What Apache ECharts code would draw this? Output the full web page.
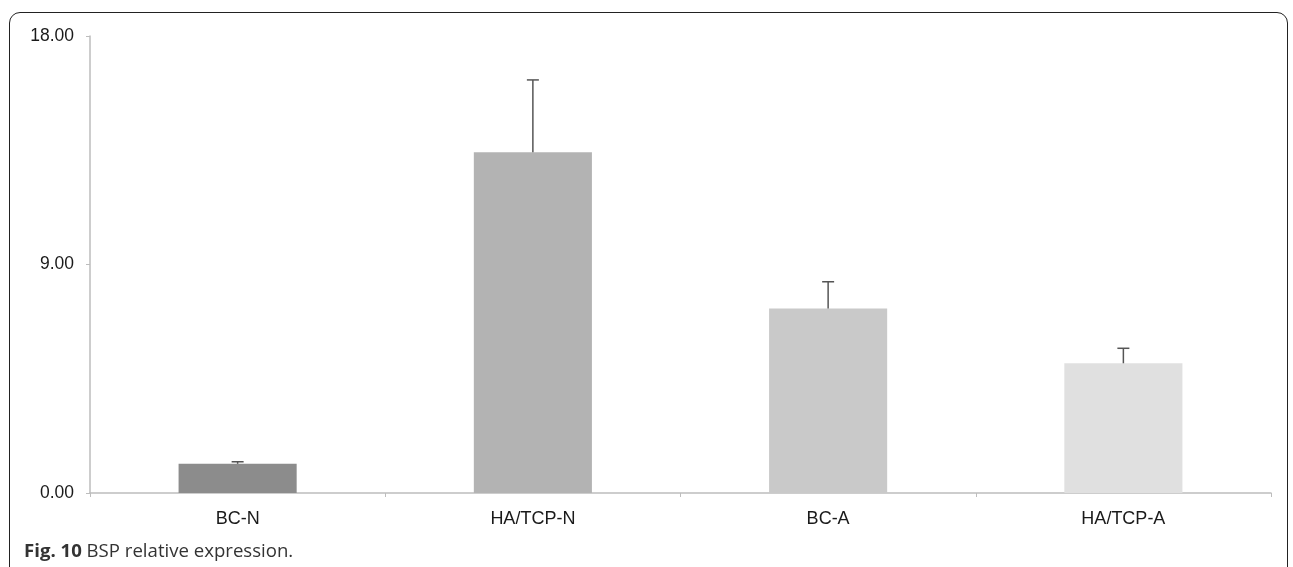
<!DOCTYPE html>
<html>
<head>
<meta charset="utf-8">
<script src="https://cdn.jsdelivr.net/npm/echarts@6/dist/echarts.min.js"></script>
<style>
  html, body { margin: 0; padding: 0; background: #fff; }
  #wrap { position: relative; width: 1293px; height: 567px; overflow: hidden; }
  #frame {
    position: absolute; left: 9px; top: 12px; width: 1279px; height: 600px;
    border: 1.5px solid #222; border-radius: 11px; box-sizing: border-box;
  }
  #chart { position: absolute; left: 0; top: 0; width: 1293px; height: 567px; }
  #caption {
    position: absolute; left: 24px; top: 540px; line-height: 20px; white-space: nowrap;
    font-family: "Open Sans", "Noto Sans", sans-serif; font-size: 18.6px; color: #333;
  }
  #caption b { font-weight: 700; }
</style>
</head>
<body>
<div id="wrap">
  <div id="frame"></div>
  <div id="chart"></div>
  <div id="caption"><b>Fig. 10</b> BSP relative expression.</div>
</div>
<script>
// Groups and measured BSP relative expression (mean and upper error)
const categories = ['BC-N', 'HA/TCP-N', 'BC-A', 'HA/TCP-A'];
const means = [1.15, 13.42, 7.27, 5.11];
const errors = [0.08, 2.85, 1.05, 0.59];
const barColors = ['#8c8c8c', '#b3b3b3', '#c9c9c9', '#e0e0e0'];
const yTicks = [0, 9, 18];

const chart = echarts.init(document.getElementById('chart'), null, { renderer: 'canvas' });

const axisColor = '#bdbdbd';
const fontFamily = '"Liberation Sans", Arial, Helvetica, sans-serif';

chart.setOption({
  animation: false,
  grid: { left: 90, right: 22, top: 36, bottom: 74, containLabel: false },
  xAxis: {
    type: 'category',
    data: categories,
    boundaryGap: true,
    axisLine: { show: true, lineStyle: { color: axisColor, width: 1.5 } },
    axisTick: { show: true, length: 4, inside: false, alignWithLabel: false, lineStyle: { color: axisColor } },
    axisLabel: { margin: 17, color: '#1a1a1a', fontSize: 18, fontFamily: fontFamily },
    splitLine: { show: false }
  },
  yAxis: {
    type: 'value',
    min: yTicks[0],
    max: yTicks[yTicks.length - 1],
    interval: yTicks[1] - yTicks[0],
    axisLine: { show: true, lineStyle: { color: axisColor, width: 1.5 } },
    axisTick: { show: true, length: 4, lineStyle: { color: axisColor } },
    axisLabel: { margin: 16, color: '#1a1a1a', fontSize: 17.5, fontFamily: fontFamily,
      formatter: v => v.toFixed(2) },
    splitLine: { show: false }
  },
  series: [
    {
      type: 'bar',
      barWidth: '40%',
      data: means.map((v, i) => ({ value: v, itemStyle: { color: barColors[i] } })),
      z: 2
    },
    {
      type: 'custom',
      z: 3,
      data: means.map((v, i) => [i, v, v + errors[i]]),
      renderItem: function (params, api) {
        const base = api.coord([api.value(0), api.value(1)]);
        const top = api.coord([api.value(0), api.value(2)]);
        const half = 6;
        const style = { stroke: '#555', lineWidth: 1.5, fill: null };
        return {
          type: 'group',
          children: [
            { type: 'line', shape: { x1: base[0], y1: base[1], x2: top[0], y2: top[1] }, style: style },
            { type: 'line', shape: { x1: top[0] - half, y1: top[1], x2: top[0] + half, y2: top[1] }, style: style }
          ]
        };
      }
    }
  ]
});
</script>
</body>
</html>
